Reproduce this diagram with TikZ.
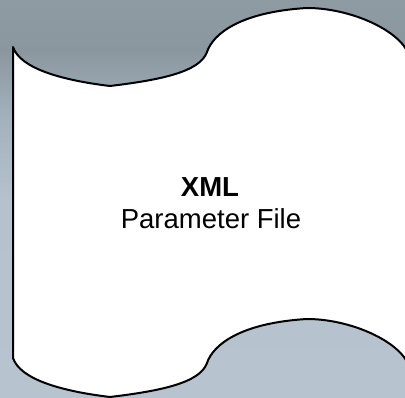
\documentclass[tikz,border=0pt]{standalone}
\usepackage{fontspec}
\setmainfont{Liberation Sans}
\definecolor{bgA}{HTML}{B7C4CF}
\definecolor{bgB}{HTML}{B5C2CD}
\definecolor{bgC}{HTML}{A3B2BD}
\definecolor{bgD}{HTML}{8A979F}
\definecolor{bgE}{HTML}{8F9BA3}
\pgfdeclareverticalshading{bgshade}{100bp}{color(0bp)=(bgA); color(25bp)=(bgA); color(49.87bp)=(bgB); color(59.92bp)=(bgC); color(68.72bp)=(bgD); color(75bp)=(bgE); color(100bp)=(bgE)}
\tikzset{
  tape/.style={draw=black, line width=2pt, fill=white, line join=round},
  lbl/.style={font=\fontsize{27.5}{33}\selectfont, inner sep=0pt, anchor=base}
}
\begin{document}
\begin{tikzpicture}[x=1pt,y=1pt]
\useasboundingbox (0,0) rectangle (405,398);
\shade[shading=bgshade] (0,0) rectangle (405,398);
\begin{scope}
\clip (0,0) rectangle (405,398);
\draw[tape] (13,351)
  .. controls (20,330) and (60,318) .. (110,312)
  .. controls (160,318) and (200,326) .. (207,346)
  .. controls (213,364) and (240,386) .. (307,390)
  .. controls (350,390) and (400,368) .. (409,343)
  -- (409,32)
  .. controls (400,57) and (350,79) .. (307,79)
  .. controls (240,75) and (213,53) .. (207,35)
  .. controls (200,15) and (160,7) .. (110,1)
  .. controls (60,7) and (20,19) .. (13,40)
  -- cycle;
\end{scope}
\node[lbl] (t1) at (210,201) {\bfseries XML};
\node[lbl] (t2) at (211,169) {Parameter File};
\end{tikzpicture}
\end{document}
